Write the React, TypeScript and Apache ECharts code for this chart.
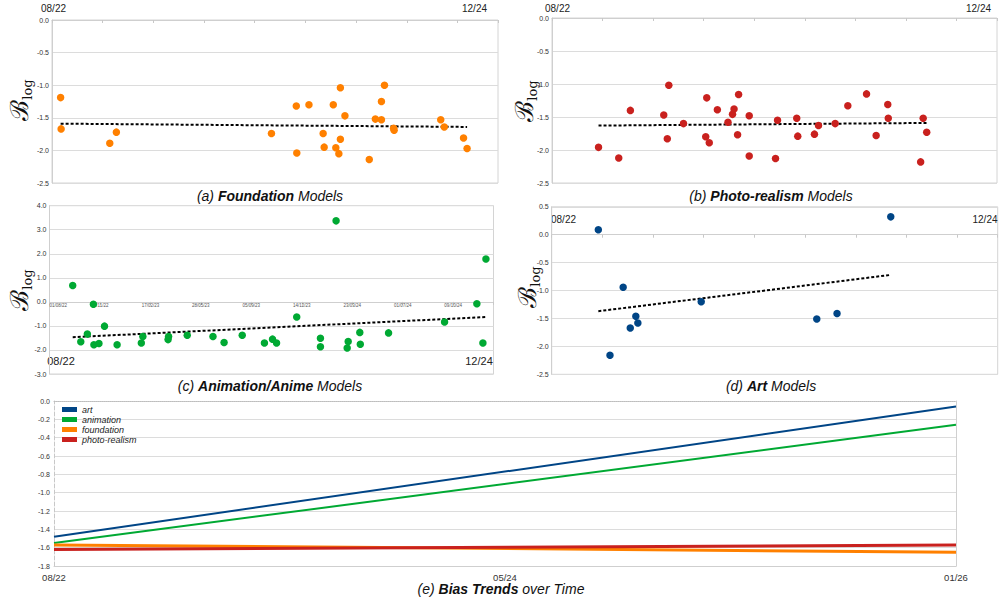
import React, { useEffect, useRef } from 'react';
import * as echarts from 'echarts';

// x values are days since 2022-08-01
const foundationDays = [17, 18, 114, 127, 433, 482, 483, 507, 535, 537, 555, 560, 566, 569, 569, 578, 626, 638, 650, 650, 656, 674, 675, 767, 774, 812, 819];
const foundationBias = [-1.19, -1.67, -1.89, -1.72, -1.74, -1.32, -2.04, -1.30, -1.74, -1.95, -1.30, -1.96, -2.05, -1.04, -1.83, -1.47, -2.14, -1.52, -1.53, -1.25, -1.00, -1.66, -1.69, -1.53, -1.64, -1.81, -1.97];
const foundationTrendDays = [17, 819];
const foundationTrendBias = [-1.59, -1.64];

const photoDays = [92, 132, 155, 221, 228, 231, 260, 304, 306, 311, 327, 348, 357, 360, 367, 369, 390, 390, 442, 446, 484, 486, 519, 527, 560, 585, 622, 641, 664, 665, 729, 734, 741];
const photoBias = [-1.96, -2.12, -1.40, -1.47, -1.83, -1.02, -1.60, -1.80, -1.21, -1.89, -1.39, -1.58, -1.46, -1.38, -1.77, -1.16, -1.48, -2.09, -2.13, -1.55, -1.52, -1.79, -1.76, -1.63, -1.60, -1.33, -1.15, -1.78, -1.31, -1.52, -2.18, -1.52, -1.73];
const photoTrendDays = [92, 741];
const photoTrendBias = [-1.63, -1.59];

const animDays = [46, 62, 75, 87, 88, 98, 109, 134, 182, 185, 235, 236, 273, 324, 346, 382, 426, 442, 450, 490, 537, 537, 568, 590, 592, 615, 616, 672, 783, 847, 859, 865];
const animBias = [0.68, -1.66, -1.34, -0.10, -1.78, -1.73, -1.01, -1.78, -1.71, -1.44, -1.57, -1.44, -1.39, -1.44, -1.69, -1.39, -1.71, -1.55, -1.71, -0.63, -1.51, -1.87, 3.37, -1.92, -1.65, -1.27, -1.76, -1.29, -0.84, -0.08, -1.71, 1.78];
const animTrendDays = [46, 865];
const animTrendBias = [-1.47, -0.63];

const artDays = [92, 115, 141, 155, 166, 170, 295, 523, 563, 669];
const artBias = [0.09, -2.16, -0.94, -1.67, -1.46, -1.58, -1.20, -1.51, -1.41, 0.32];
const artTrendDays = [92, 669];
const artTrendBias = [-1.37, -0.72];

const animTickLabels = ['01/08/22', '09/11/22', '17/02/23', '28/05/23', '05/09/23', '14/12/23', '23/03/24', '01/07/24', '09/10/24'];

// Panel (e): linear trends over time
const trendNames = ['art', 'animation', 'foundation', 'photo-realism'];
const trendDays = [0, 1249];
const trendArt = [-1.48, -0.06];
const trendAnim = [-1.55, -0.26];
const trendFound = [-1.57, -1.65];
const trendPhoto = [-1.62, -1.57];
const trendAxisLabels = ['08/22', '05/24', '01/26'];

const COLORS = { art: '#004586', animation: '#00a933', foundation: '#ff8000', photo: '#c9211e' };
const FONT = 'Liberation Sans, Arial, sans-serif';
const GRIDC = '#dcdcdc';

const zip = (xs: number[], ys: number[]) => xs.map((x, i) => [x, ys[i]]);

function buildOption() {
  const gridBoxes = [
    { left: 52, top: 20, width: 446, height: 163 },
    { left: 552, top: 18, width: 445, height: 165 },
    { left: 49.5, top: 205.7, width: 444, height: 168.3 },
    { left: 551.7, top: 206.8, width: 446, height: 167.5 },
    { left: 54, top: 401, width: 902, height: 165 },
  ];
  const grids = gridBoxes.map((g, i) => ({ ...g, show: i < 4, borderColor: '#d4d4d4', borderWidth: 1, containLabel: false }));

  const yRanges = [
    { min: -2.5, max: 0, interval: 0.5 },
    { min: -2.5, max: 0, interval: 0.5 },
    { min: -3, max: 4, interval: 1 },
    { min: -2.5, max: 0.5, interval: 0.5 },
  ];

  // offset that moves a bottom x axis up to the y = 0 line of its grid
  const zeroOffset = (i: number) => {
    const r = yRanges[i];
    const g = gridBoxes[i];
    return -((0 - r.min) / (r.max - r.min)) * g.height;
  };

  const xAxis: any[] = [0, 1, 2, 3].map((i) => ({
    gridIndex: i,
    type: 'value',
    min: 0,
    max: 880,
    interval: 100,
    position: i < 2 ? 'top' : 'bottom',
    offset: i < 2 ? 0 : zeroOffset(i),
    axisLine: { show: true, onZero: false, lineStyle: { color: '#cfcfcf' } },
    axisTick: { show: true, inside: i < 2, length: 3, lineStyle: { color: '#c8c8c8' } },
    axisLabel: {
      show: i === 2,
      fontSize: 4.5,
      color: '#555',
      margin: 1,
      fontFamily: FONT,
      alignMinLabel: 'left',
      formatter: (v: number) => animTickLabels[Math.round(v / 100)] ?? '',
    },
    splitLine: { show: false },
  }));
  xAxis.push({
    gridIndex: 4,
    type: 'value',
    min: 0,
    max: 1249,
    interval: 624.5,
    position: 'bottom',
    axisLine: { show: true, onZero: false, lineStyle: { color: '#cfcfcf' } },
    axisTick: { show: false },
    axisLabel: {
      fontSize: 9.5,
      color: '#333',
      margin: 6,
      fontFamily: FONT,
      showMaxLabel: true,
      showMinLabel: true,
      formatter: (v: number) => trendAxisLabels[Math.round(v / 624.5)] ?? '',
    },
    splitLine: { show: false },
  });
  xAxis.push({
    gridIndex: 4,
    type: 'value',
    min: 0,
    max: 1249,
    position: 'top',
    axisLine: { show: true, onZero: false, lineStyle: { color: '#bdbdbd', type: 'dotted' } },
    axisTick: { show: false },
    axisLabel: { show: false },
    splitLine: { show: false },
  });

  const yAxis: any[] = yRanges.map((r, i) => ({
    gridIndex: i,
    type: 'value',
    ...r,
    axisLine: { show: true, onZero: false, lineStyle: { color: '#cfcfcf' } },
    axisTick: { show: false },
    axisLabel: { fontSize: 7, color: '#333', margin: 3, fontFamily: FONT, formatter: (v: number) => v.toFixed(1) },
    splitLine: { show: true, lineStyle: { color: GRIDC } },
  }));
  yAxis.push({
    gridIndex: 4,
    type: 'value',
    min: -1.8,
    max: 0,
    interval: 0.2,
    axisLine: { show: true, onZero: false, lineStyle: { color: '#c8c8c8', type: 'dashed' } },
    axisTick: { show: false },
    axisLabel: { fontSize: 7, color: '#333', margin: 4, fontFamily: FONT, formatter: (v: number) => v.toFixed(1) },
    splitLine: { show: true, lineStyle: { color: GRIDC } },
  });
  yAxis.push({
    gridIndex: 4,
    type: 'value',
    min: -1.8,
    max: 0,
    position: 'right',
    axisLine: { show: true, onZero: false, lineStyle: { color: '#d0d0d0' } },
    axisTick: { show: false },
    axisLabel: { show: false },
    splitLine: { show: false },
  });

  const panels = [
    { pts: zip(foundationDays, foundationBias), tr: zip(foundationTrendDays, foundationTrendBias), color: COLORS.foundation },
    { pts: zip(photoDays, photoBias), tr: zip(photoTrendDays, photoTrendBias), color: COLORS.photo },
    { pts: zip(animDays, animBias), tr: zip(animTrendDays, animTrendBias), color: COLORS.animation },
    { pts: zip(artDays, artBias), tr: zip(artTrendDays, artTrendBias), color: COLORS.art },
  ];

  const series: any[] = [];
  panels.forEach((p, i) => {
    series.push({
      type: 'line',
      xAxisIndex: i,
      yAxisIndex: i,
      data: p.tr,
      symbol: 'none',
      silent: true,
      lineStyle: { color: '#000', width: 2, type: [3, 2] },
      z: 2,
    });
    series.push({
      type: 'scatter',
      xAxisIndex: i,
      yAxisIndex: i,
      data: p.pts,
      symbolSize: 7.5,
      itemStyle: { color: p.color, opacity: 1 },
      z: 3,
    });
  });

  const trendSets = [
    { name: trendNames[0], ys: trendArt, color: COLORS.art, w: 2 },
    { name: trendNames[1], ys: trendAnim, color: COLORS.animation, w: 2 },
    { name: trendNames[2], ys: trendFound, color: COLORS.foundation, w: 3 },
    { name: trendNames[3], ys: trendPhoto, color: COLORS.photo, w: 3 },
  ];
  trendSets.forEach((t) => {
    series.push({
      type: 'line',
      name: t.name,
      xAxisIndex: 4,
      yAxisIndex: 4,
      data: zip(trendDays, t.ys),
      symbol: 'none',
      lineStyle: { color: t.color, width: t.w },
      itemStyle: { color: t.color },
    });
  });

  const textEl = (x: number, y: number, text: string, size = 10) => ({
    type: 'text',
    x,
    y,
    silent: true,
    style: {
      text,
      fill: '#222',
      font: `${size}px ${FONT}`,
      align: 'center',
      verticalAlign: 'middle',
      textAlign: 'center',
      textVerticalAlign: 'middle',
    },
  });

  const caption = (x: number, y: number, pre: string, bold: string, post: string) => ({
    type: 'text',
    x,
    y,
    silent: true,
    style: {
      text: `{i|${pre}}{b|${bold}}{i|${post}}`,
      align: 'center',
      verticalAlign: 'middle',
      textAlign: 'center',
      textVerticalAlign: 'middle',
      rich: {
        i: { fontSize: 14, fontStyle: 'italic', fontFamily: FONT, fill: '#111', color: '#111' },
        b: { fontSize: 14, fontStyle: 'italic', fontWeight: 'bold', fontFamily: FONT, fill: '#111', color: '#111' },
      },
    },
  });

  const yName = (x: number, y: number) => ({
    type: 'text',
    x,
    y,
    rotation: Math.PI / 2,
    silent: true,
    style: {
      text: '{b|ℬ}{s|log}',
      align: 'center',
      verticalAlign: 'middle',
      textAlign: 'center',
      textVerticalAlign: 'middle',
      rich: {
        b: { fontSize: 25, fontFamily: 'DejaVu Serif, serif', fill: '#111', color: '#111', lineHeight: 30, verticalAlign: 'middle' },
        s: { fontSize: 13, fontFamily: 'DejaVu Serif, serif', fill: '#111', color: '#111', lineHeight: 13, verticalAlign: 'bottom' },
      },
    },
  });

  const graphic = [
    textEl(53.5, 8, '08/22'),
    textEl(474.5, 8, '12/24'),
    textEl(557.5, 8, '08/22'),
    textEl(978.5, 8, '12/24'),
    textEl(61, 361, '08/22', 11),
    textEl(479, 361, '12/24', 11),
    textEl(563.5, 219, '08/22'),
    textEl(985, 219, '12/24'),
    caption(270, 196, '(a) ', 'Foundation', ' Models'),
    caption(771, 196, '(b) ', 'Photo-realism', ' Models'),
    caption(270, 386, '(c) ', 'Animation/Anime', ' Models'),
    caption(771, 386, '(d) ', 'Art', ' Models'),
    caption(501, 589, '(e) ', 'Bias Trends', ' over Time'),
    yName(19, 100),
    yName(524, 101),
    yName(19, 290),
    yName(527, 287),
  ];

  return {
    animation: false,
    backgroundColor: '#fff',
    textStyle: { fontFamily: FONT },
    grid: grids,
    xAxis,
    yAxis,
    series,
    legend: {
      data: trendNames,
      orient: 'vertical',
      left: 62,
      top: 405,
      itemWidth: 15,
      itemHeight: 5,
      itemGap: 1,
      icon: 'rect',
      padding: 0,
      textStyle: { fontSize: 9, fontStyle: 'italic', color: '#222', fontFamily: FONT, lineHeight: 9 },
    },
    graphic,
  };
}

export default function App() {
  const ref = useRef<HTMLDivElement>(null);
  useEffect(() => {
    const chart = echarts.init(ref.current!, null, { renderer: 'svg' });
    chart.setOption(buildOption() as any);
    return () => chart.dispose();
  }, []);
  return (
    <div
      ref={ref}
      style={{ position: 'absolute', left: 0, top: 0, width: 1000, height: 603, background: '#fff' }}
    />
  );
}
